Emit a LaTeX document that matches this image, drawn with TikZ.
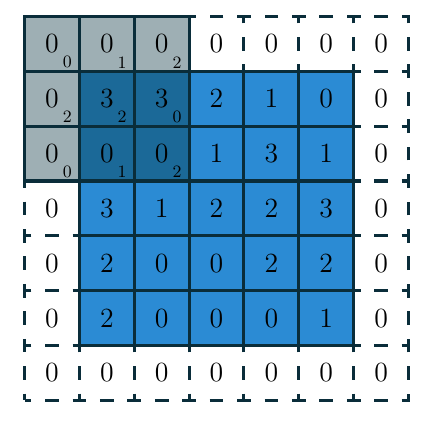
\documentclass[tikz,border=0pt]{standalone}
\usetikzlibrary{calc,positioning}

\definecolor{gridline}{RGB}{10,45,58}
\definecolor{cellblue}{RGB}{43,139,212}
\definecolor{darkblue}{RGB}{27,105,152}
\definecolor{kgray}{RGB}{158,175,180}

\begin{document}
\begin{tikzpicture}[scale=1
        , every node/.style={ inner sep=0pt, outer sep=0pt }
        , pad/.style={ draw=gridline, line width=1.6pt, dash pattern=on 0.25cm off 0.25cm,
            dash phase=0.125cm, minimum size=1cm, font=\Large }
        , val/.style={ draw=gridline, fill=cellblue, line width=1.6pt, minimum size=1cm, font=\Large }
        , sub/.style={ font=\small }
        ]
        \useasboundingbox (-0.947,-7.093) rectangle (6.946,0.8);

        % zero padding all round
        \foreach \i in {0,...,6} {
            \node[pad] (t\i) at (\i,0) {0};
            \node[pad] (b\i) at (\i,-6) {0};
        }
        \foreach \j in {1,...,5} {
            \node[pad] (l\j) at (0,-\j) {0};
            \node[pad] (r\j) at (6,-\j) {0};
        }

        % input values
        \foreach \row [count=\j] in {{3,3,2,1,0},{0,0,1,3,1},{3,1,2,2,3},{2,0,0,2,2},{2,0,0,0,1}}
            \foreach \v [count=\i] in \row
                \node[val] (x\i\j) at (\i,-\j) {\v};

        % kernel window with its weights
        \foreach \i/\j/\v/\w/\f in {0/0/0/0/kgray, 1/0/0/1/kgray, 2/0/0/2/kgray,
                0/1/0/2/kgray, 1/1/3/2/darkblue, 2/1/3/0/darkblue,
                0/2/0/0/kgray, 1/2/0/1/darkblue, 2/2/0/2/darkblue} {
            \node[val, fill=\f] (k\i\j) at (\i,-\j) {\v};
            \node[sub, xshift=0.28cm, yshift=-0.335cm] (w\i\j) at (k\i\j) {\w};
        }

    \end{tikzpicture}
\end{document}
